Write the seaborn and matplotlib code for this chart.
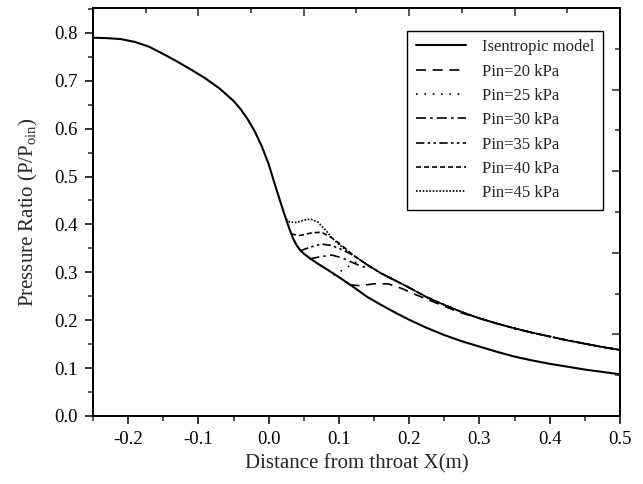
import numpy as np
import pandas as pd
import matplotlib
matplotlib.use('Agg')
import matplotlib.pyplot as plt
from matplotlib.ticker import MultipleLocator
import seaborn as sns

# isentropic model
x_isen = [-0.25, -0.23, -0.21, -0.19, -0.17, -0.15, -0.13, -0.11, -0.09, -0.07,
          -0.05, -0.04, -0.03, -0.02, -0.01, 0.00, 0.005, 0.01, 0.015, 0.02,
          0.025, 0.03, 0.035, 0.04, 0.045, 0.05, 0.06, 0.07, 0.08, 0.10,
          0.12, 0.14, 0.16, 0.18, 0.20, 0.225, 0.25, 0.275, 0.30, 0.325,
          0.35, 0.375, 0.40, 0.425, 0.45, 0.475, 0.50]
y_isen = [0.790, 0.789, 0.787, 0.781, 0.771, 0.756, 0.740, 0.723, 0.705, 0.684,
          0.658, 0.641, 0.620, 0.595, 0.564, 0.526, 0.502, 0.478, 0.455, 0.432,
          0.410, 0.389, 0.370, 0.356, 0.346, 0.339, 0.328, 0.318, 0.309, 0.290,
          0.270, 0.249, 0.232, 0.216, 0.201, 0.184, 0.169, 0.156, 0.145, 0.134,
          0.124, 0.116, 0.109, 0.103, 0.097, 0.092, 0.087]

# common downstream branch of the Pin curves
x_tail = [0.12, 0.14, 0.16, 0.18, 0.20, 0.225, 0.25, 0.275, 0.30, 0.325,
          0.35, 0.375, 0.40, 0.425, 0.45, 0.475, 0.50]
y_tail = [0.336, 0.316, 0.298, 0.283, 0.268, 0.248, 0.232, 0.217, 0.204, 0.193,
          0.183, 0.174, 0.166, 0.158, 0.151, 0.144, 0.138]

x_p45 = [0.025, 0.03, 0.04, 0.05, 0.06, 0.07, 0.08, 0.09, 0.10, 0.11]
y_p45 = [0.412, 0.405, 0.404, 0.409, 0.411, 0.405, 0.390, 0.372, 0.358, 0.347]
x_p40 = [0.032, 0.045, 0.06, 0.075, 0.09, 0.10, 0.11]
y_p40 = [0.380, 0.377, 0.382, 0.384, 0.372, 0.361, 0.349]
x_p35 = [0.045, 0.06, 0.075, 0.09, 0.105]
y_p35 = [0.345, 0.353, 0.359, 0.356, 0.347]
x_p30 = [0.058, 0.075, 0.09, 0.105, 0.12, 0.135]
y_p30 = [0.328, 0.333, 0.336, 0.330, 0.320, 0.311]
x_p25 = [0.092, 0.10, 0.11, 0.12, 0.13]
y_p25 = [0.294, 0.300, 0.309, 0.318, 0.326]
x_p20 = [0.115, 0.13, 0.15, 0.17, 0.19, 0.21, 0.23, 0.25, 0.275]
y_p20 = [0.274, 0.272, 0.276, 0.276, 0.266, 0.253, 0.241, 0.229, 0.215]

def with_tail(xs, ys, x_start):
    xx = list(xs) + [x for x in x_tail if x > x_start]
    yy = list(ys) + [y for x, y in zip(x_tail, y_tail) if x > x_start]
    return xx, yy

series = [
    ('Isentropic model', x_isen, y_isen, '-', 1.5),
    ('Pin=20 kPa', *with_tail(x_p20, y_p20, 0.28), (0, (6, 4)), 1.2),
    ('Pin=25 kPa', *with_tail(x_p25, y_p25, 0.131), (0, (1, 4)), 1.2),
    ('Pin=30 kPa', *with_tail(x_p30, y_p30, 0.136), (0, (6, 2.5, 1.5, 2.5)), 1.2),
    ('Pin=35 kPa', *with_tail(x_p35, y_p35, 0.106), (0, (5, 2, 1.5, 2, 1.5, 2)), 1.2),
    ('Pin=40 kPa', *with_tail(x_p40, y_p40, 0.111), (0, (3, 1.8)), 1.2),
    ('Pin=45 kPa', *with_tail(x_p45, y_p45, 0.111), (0, (1, 1)), 1.2),
]

sns.set_theme(style='ticks')
plt.rcParams['font.family'] = ['Liberation Serif', 'DejaVu Serif']
plt.rcParams['mathtext.fontset'] = 'custom'
plt.rcParams['mathtext.rm'] = 'Liberation Serif'
plt.rcParams['mathtext.it'] = 'Liberation Serif:italic'

fig = plt.figure(figsize=(6.43, 4.84), dpi=100)
ax = fig.add_axes([0.1446, 0.1405, 0.8196, 0.843])

for name, xs, ys, ls, lw in series:
    df = pd.DataFrame({'x': xs, 'y': ys})
    sns.lineplot(data=df, x='x', y='y', ax=ax, color='black', linestyle=ls,
                 linewidth=lw, label=name, estimator=None, sort=False)

ax.set_xlim(-0.25, 0.5)
ax.set_ylim(0.0, 0.852)
ax.xaxis.set_minor_locator(MultipleLocator(0.05))
ax.yaxis.set_minor_locator(MultipleLocator(0.05))
ax.set_xticks([-0.2, -0.1, 0.0, 0.1, 0.2, 0.3, 0.4, 0.5])
ax.set_xticklabels(['-0.2', '-0.1', '0.0', '0.1', '0.2', '0.3', '0.4', '0.5'])
ax.set_yticks([0.0, 0.1, 0.2, 0.3, 0.4, 0.5, 0.6, 0.7, 0.8])
ax.set_yticklabels(['0.0', '0.1', '0.2', '0.3', '0.4', '0.5', '0.6', '0.7', '0.8'])
ax.tick_params(which='major', direction='out', length=6, width=1.1, labelsize=13.5,
               colors='black', pad=5)
ax.tick_params(which='minor', direction='out', length=3.5, width=1.1)

for sp in ax.spines.values():
    sp.set_linewidth(1.3)
    sp.set_color('black')

# top and right frame ticks (inward, independent spacing)
ax_top = ax.twiny()
ax_top.set_xlim(0, 1)
ax_top.xaxis.set_major_locator(MultipleLocator(0.2))
ax_top.xaxis.set_minor_locator(MultipleLocator(0.1))
ax_top.tick_params(which='major', direction='in', length=6, width=1.1, labeltop=False)
ax_top.tick_params(which='minor', direction='in', length=3.5, width=1.1)
ax_right = ax.twinx()
ax_right.set_ylim(0, 1)
ax_right.yaxis.set_major_locator(MultipleLocator(0.2))
ax_right.yaxis.set_minor_locator(MultipleLocator(0.1))
ax_right.tick_params(which='major', direction='in', length=6, width=1.1, labelright=False)
ax_right.tick_params(which='minor', direction='in', length=3.5, width=1.1)
for a in (ax_top, ax_right):
    for sp in a.spines.values():
        sp.set_linewidth(1.3)
        sp.set_color('black')

ax.set_xlabel('Distance from throat X(m)', fontsize=15, labelpad=4)
ax.set_ylabel(r'Pressure Ratio (P/P$_{\mathrm{oin}}$)', fontsize=15, labelpad=10)

leg = ax.legend(loc='upper right', bbox_to_anchor=(0.9677, 0.9436), borderaxespad=0,
                fontsize=12, frameon=True, fancybox=False, edgecolor='black',
                handlelength=3.0, handletextpad=1.0, labelspacing=0.5, borderpad=0.5)
leg.get_frame().set_linewidth(1.0)
leg.get_frame().set_alpha(1)
leg.set_zorder(10)

fig.savefig('out.png', dpi=100)
